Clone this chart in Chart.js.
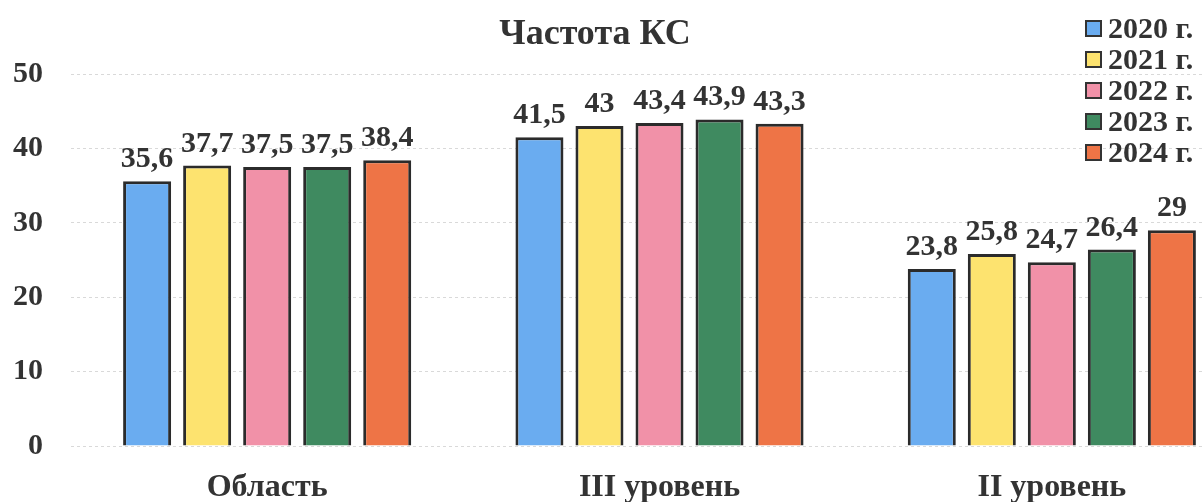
<!DOCTYPE html>
<html lang="ru">
<head>
<meta charset="utf-8">
<script src="https://cdn.jsdelivr.net/npm/chart.js@4"></script>
<style>
  html, body { margin: 0; padding: 0; background: #fff; }
  #wrap { position: relative; width: 1203px; height: 502px; overflow: hidden; }
  #chart { position: absolute; left: 0; top: 0; }
  #title { position: absolute; left: 0; width: 1190px; top: 12px; text-align: center;
           font: bold 36px "Liberation Serif", serif; color: #333; line-height: 40px; }
  #legend { position: absolute; left: 1085px; top: 11px; }
  .item { height: 31px; line-height: 31px; font: bold 30px "Liberation Serif", serif; color: #333; white-space: nowrap; }
  .box { display: inline-block; width: 13px; height: 13px; border: 2px solid #333; margin-right: 6px; vertical-align: 1px; }
</style>
</head>
<body>
<div id="wrap">
  <canvas id="chart" width="1250" height="502"></canvas>
  <div id="title">Частота КС</div>
  <div id="legend"></div>
</div>
<script>
// Частота КС по годам
const categories = ['Область', 'III уровень', 'II уровень'];
const years = ['2020 г.', '2021 г.', '2022 г.', '2023 г.', '2024 г.'];
const v2020 = [35.6, 41.5, 23.8];
const v2021 = [37.7, 43, 25.8];
const v2022 = [37.5, 43.4, 24.7];
const v2023 = [37.5, 43.9, 26.4];
const v2024 = [38.4, 43.3, 29];
const yTicks = [0, 10, 20, 30, 40, 50];

const colors = ['#6aacf0', '#fde36f', '#f191a8', '#3f8a60', '#ee7446'];
const series = [v2020, v2021, v2022, v2023, v2024];

const serif = '"Liberation Serif", "Times New Roman", serif';

// легенда
const legend = document.getElementById('legend');
years.forEach((y, i) => {
    const row = document.createElement('div');
    row.className = 'item';
    row.innerHTML = '<span class="box" style="background:' + colors[i] + '"></span>' + y;
    legend.appendChild(row);
});

// подписи значений над столбцами
const valueLabels = {
    id: 'valueLabels',
    afterDatasetsDraw(chart) {
        const ctx = chart.ctx;
        ctx.save();
        ctx.font = 'bold 30px ' + serif;
        ctx.fillStyle = '#333';
        ctx.textAlign = 'center';
        ctx.textBaseline = 'alphabetic';
        chart.data.datasets.forEach((ds, i) => {
            chart.getDatasetMeta(i).data.forEach((bar, j) => {
                ctx.fillText(String(ds.data[j]).replace('.', ','), bar.x, bar.y - 14);
            });
        });
        ctx.restore();
    }
};

const ctx = document.getElementById('chart').getContext('2d');
const chart = new Chart(ctx, {
    type: 'bar',
    data: {
        labels: categories,
        datasets: years.map((y, i) => ({
            label: y,
            data: series[i],
            backgroundColor: colors[i],
            borderColor: '#2b2b2b',
            borderWidth: 3,
            categoryPercentage: 0.765,
            barPercentage: 0.8
        }))
    },
    options: {
        responsive: false,
        animation: false,
        devicePixelRatio: 1,
        layout: { padding: { top: 74, right: 2, left: 0, bottom: 0 } },
        plugins: {
            legend: { display: false },
            title: { display: false },
            tooltip: { enabled: false }
        },
        scales: {
            y: {
                min: 0,
                max: 50,
                afterBuildTicks: (s) => { s.ticks = yTicks.map(v => ({ value: v })); },
                afterFit: (s) => { s.width = 71; },
                border: { display: false, dash: [3, 3] },
                grid: { color: '#d9d9d9', lineWidth: 1, drawTicks: false },
                ticks: { padding: 28, color: '#333', font: { family: serif, size: 30, weight: 'bold' } }
            },
            x: {
                afterFit: (s) => { s.height = 56; },
                border: { display: false },
                grid: { display: false },
                ticks: { padding: 15, color: '#333', font: { family: serif, size: 32, weight: 'bold' } }
            }
        }
    },
    plugins: [valueLabels]
});
</script>
</body>
</html>
